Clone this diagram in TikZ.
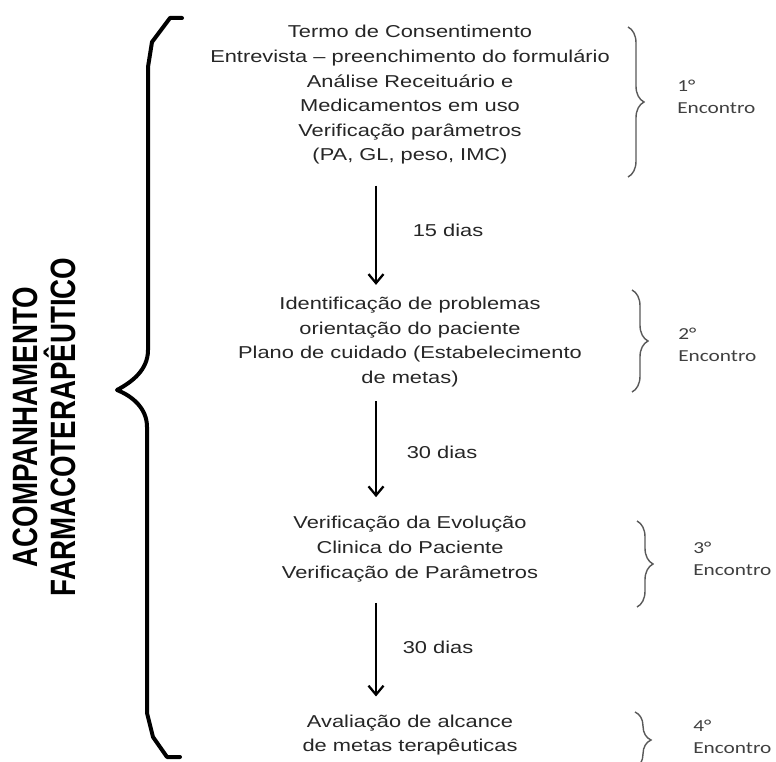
\documentclass[tikz,border=0pt]{standalone}
\usepackage{fontspec}
\setmainfont{Liberation Sans}
\newfontfamily\calibri{Carlito}
\usetikzlibrary{arrows.meta,decorations.pathreplacing}

\tikzset{
  etapa/.style={align=center, inner sep=0pt, xscale=1.27, text=black!85,
    font=\fontsize{17.2}{24.6}\selectfont},
  prazo/.style={inner sep=0pt, xscale=1.27, text=black!85,
    font=\fontsize{17.2}{20}\selectfont},
  encontro/.style={align=left, anchor=west, inner sep=0pt, xscale=1.27,
    text=black!75, font=\calibri\fontsize{16.8}{22}\selectfont},
  seta/.style={line width=2.3pt, -{Straight Barb[length=9pt,width=15pt,line width=2.3pt]}},
  chave/.style={draw=black!65, line width=1.4pt,
    decorate, decoration={brace, amplitude=16pt}},
}

\begin{document}
\begin{tikzpicture}[x=1pt, y=-1pt]
  \useasboundingbox (0,0) rectangle (776,762);
  \clip (0,0) rectangle (776,762);
  \fill[white] (0,0) rectangle (776,762);

  % eixo das setas
  \coordinate (eixo) at (376,0);

  % blocos de texto dos encontros
  \node[etapa] (b1) at (410,95) {Termo de Consentimento\\
    Entrevista -- preenchimento do formulário\\
    Análise Receituário e\\
    Medicamentos em uso\\
    Verificação parâmetros\\
    (PA, GL, peso, IMC)};
  \node[etapa] (b2) at (410,342) {Identificação de problemas\\
    orientação do paciente\\
    Plano de cuidado (Estabelecimento\\
    de metas)};
  \node[etapa] (b3) at (410,549) {Verificação da Evolução\\
    Clinica do Paciente\\
    Verificação de Parâmetros};
  \node[etapa] (b4) at (410,735) {Avaliação de alcance\\
    de metas terapêuticas};

  % setas entre os encontros
  \draw[seta, shorten <=21pt, shorten >=12pt] (b1.south -| eixo) -- (b2.north -| eixo);
  \draw[seta, shorten <=14pt, shorten >=19pt] (b2.south -| eixo) -- (b3.north -| eixo);
  \draw[seta, shorten <=21pt, shorten >=18pt] (b3.south -| eixo) -- (b4.north -| eixo);

  % intervalos
  \node[prazo] (d1) at (448,230) {15 dias};
  \node[prazo] (d2) at (442,452) {30 dias};
  \node[prazo] (d3) at (438,647) {30 dias};

  % chaves da direita
  \draw[chave] (628,27) -- (628,177);
  \draw[chave] (632,290) -- (632,392);
  \draw[chave] (637,521) -- (637,607);
  \draw[chave] (635,712) -- (635,768);

  \node[encontro] (e1) at (677,97) {1°\\Encontro};
  \node[encontro] (e2) at (678,345) {2°\\Encontro};
  \node[encontro] (e3) at (693,559) {3°\\Encontro};
  \node[encontro] (e4) at (693,737) {4°\\Encontro};

  % chave grande da esquerda
  \draw[line width=4pt, line join=round, line cap=round]
    (182,18) -- (170,18) -- (152,42) -- (148,67) -- (148,350)
    .. controls (148,370) and (132,382) .. (117,390)
    .. controls (132,396) and (147,408) .. (147,427)
    -- (147,713) -- (153,737) -- (167,757) -- (180,757);

  % titulo vertical
  \node[rotate=90, yscale=1.27, align=center, inner sep=0pt,
    font=\bfseries\fontsize{27.7}{30}\selectfont] (tit) at (44,427)
    {ACOMPANHAMENTO\\FARMACOTERAPÊUTICO};
\end{tikzpicture}
\end{document}
